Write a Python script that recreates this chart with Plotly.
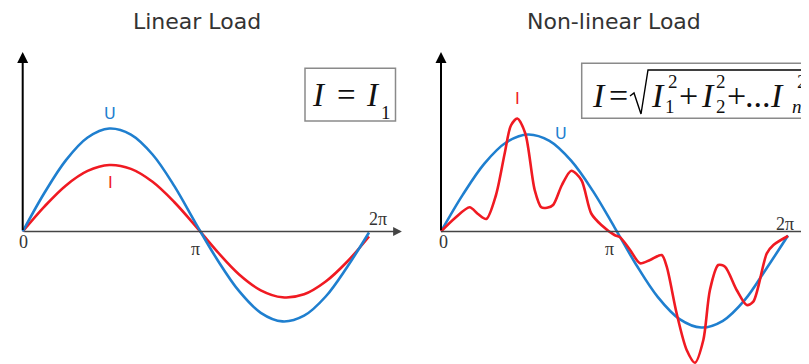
import plotly.graph_objects as go

# page body has an 8px margin: the figure is drawn 8px smaller and all page
# pixel positions are shifted by OFF
OFF = 8
W, H = 809 - OFF, 364 - OFF

# ---------------- data (x in units of pi) ----------------
theta_lin = [0, 0.125, 0.25, 0.375, 0.5, 0.625, 0.75, 0.875, 1.0,
             1.125, 1.25, 1.375, 1.5, 1.625, 1.75, 1.875, 2.0]
u_lin = [0, 0.385, 0.714, 0.94, 1.03, 0.969, 0.77, 0.456, 0.079,
         -0.285, -0.597, -0.813, -0.899, -0.842, -0.65, -0.352, -0.01]
i_lin = [0, 0.249, 0.461, 0.606, 0.665, 0.626, 0.497, 0.295, 0.051,
         -0.204, -0.43, -0.588, -0.658, -0.628, -0.50, -0.30, -0.05]

theta_nl_u = [0, 0.125, 0.25, 0.375, 0.5, 0.625, 0.75, 0.875, 1.0,
              1.125, 1.25, 1.375, 1.5, 1.625, 1.75, 1.875, 2.0]
u_nl = [0, 0.366, 0.679, 0.89, 0.97, 0.906, 0.708, 0.406, 0.042,
        -0.332, -0.656, -0.876, -0.96, -0.893, -0.687, -0.372, -0.04]

theta_nl_i = [0, 0.081, 0.165, 0.213, 0.261, 0.317, 0.367, 0.403, 0.440,
              0.486, 0.540, 0.578, 0.611, 0.646, 0.697, 0.751, 0.809,
              0.866, 0.924, 1.0, 1.032, 1.090, 1.147, 1.205, 1.272, 1.301,
              1.358, 1.416, 1.464, 1.512, 1.550, 1.598, 1.637, 1.704,
              1.762, 1.800, 1.878, 1.916, 2.0]
i_nl = [0, 0.135, 0.242, 0.175, 0.125, 0.365, 0.78, 1.06, 1.13,
        0.98, 0.415, 0.242, 0.238, 0.265, 0.465, 0.608, 0.515,
        0.18, 0.065, -0.035, -0.058, -0.185, -0.318, -0.285, -0.235, -0.352,
        -0.818, -1.185, -1.312, -1.085, -0.585, -0.335, -0.352, -0.585,
        -0.735, -0.702, -0.218, -0.135, -0.045]

tick_vals = [0, 1, 2]
tick_labels = ["0", "π", "2π"]
titles = ["Linear Load", "Non-linear Load"]

# ---------------- styles ----------------
BLUE = "#1f7fcf"
RED = "#f01a22"
TXT = "#333333"
LW = 2.6


def px(x):
    return (x - OFF) / W


def py(y):
    return 1 - (y - OFF) / H


fig = go.Figure()

fig.add_trace(go.Scatter(x=theta_lin, y=i_lin, mode="lines", xaxis="x", yaxis="y",
                         line=dict(color=RED, width=LW, shape="spline", smoothing=1.0)))
fig.add_trace(go.Scatter(x=theta_lin, y=u_lin, mode="lines", xaxis="x", yaxis="y",
                         line=dict(color=BLUE, width=LW, shape="spline", smoothing=1.0)))
fig.add_trace(go.Scatter(x=theta_nl_u, y=u_nl, mode="lines", xaxis="x2", yaxis="y2",
                         line=dict(color=BLUE, width=LW, shape="spline", smoothing=1.0)))
fig.add_trace(go.Scatter(x=theta_nl_i, y=i_nl, mode="lines", xaxis="x2", yaxis="y2",
                         line=dict(color=RED, width=LW, shape="spline", smoothing=0.8)))

yr = [-1.325, 2.235]
fig.update_layout(
    width=W, height=H, margin=dict(l=0, r=0, t=0, b=0),
    paper_bgcolor="white", plot_bgcolor="white", showlegend=False,
    xaxis=dict(domain=[0, 0.5], range=[-0.0849, 2.2281], visible=False, fixedrange=True),
    yaxis=dict(domain=[0, 1], range=yr, visible=False, fixedrange=True),
    xaxis2=dict(domain=[0.5, 1], range=[-0.1873, 2.1210], visible=False, fixedrange=True),
    yaxis2=dict(domain=[0, 1], range=yr, visible=False, anchor="x2", fixedrange=True),
)

shapes = []
ann = []

# axes
for xr, yref in (("x", "y"), ("x2", "y2")):
    ann.append(dict(x=0, y=1.795, ax=0, ay=0, xref=xr, yref=yref, axref=xr, ayref=yref,
                    showarrow=True, arrowhead=2, arrowsize=1.1, arrowwidth=2,
                    arrowcolor="black", text="", standoff=0))
ann.append(dict(x=2.19, y=0, ax=0, ay=0, xref="x", yref="y", axref="x", ayref="y",
                showarrow=True, arrowhead=2, arrowsize=1.1, arrowwidth=1.6,
                arrowcolor="#444444", text="", standoff=0))
shapes.append(dict(type="line", xref="x2", yref="y2", x0=0, y0=0, x1=2.3, y1=0,
                   line=dict(color="#444444", width=1.6)))

# tick labels
shifts = {
    "x": [(1, -10), (0, -17), (9, 13)],
    "x2": [(2, -10), (-5, -17), (-3, 8)],
}
for xr, yref in (("x", "y"), ("x2", "y2")):
    for v, lab, (dx, dy) in zip(tick_vals, tick_labels, shifts[xr]):
        ann.append(dict(x=v, y=0, xref=xr, yref=yref, text=lab, showarrow=False,
                        xshift=dx, yshift=dy,
                        font=dict(family="Liberation Serif", size=18, color=TXT)))

# titles
for t, xc in zip(titles, (197, 614)):
    ann.append(dict(x=px(xc), y=py(22), xref="paper", yref="paper", text=t,
                    showarrow=False, xanchor="center", yanchor="middle",
                    font=dict(family="DejaVu Sans", size=22, color=TXT)))

# curve labels
for t, xc, yc, c in (("U", 110, 114, BLUE), ("I", 110, 182, RED),
                     ("I", 517, 98, RED), ("U", 561, 133, BLUE)):
    ann.append(dict(x=px(xc), y=py(yc), xref="paper", yref="paper", text=t,
                    showarrow=False, xanchor="center", yanchor="middle",
                    font=dict(family="DejaVu Sans", size=16, color=c)))

# formula boxes
shapes.append(dict(type="rect", xref="paper", yref="paper", x0=px(305), x1=px(395.5),
                   y0=py(121), y1=py(68.3), line=dict(color="#8a8a8a", width=1.5)))
shapes.append(dict(type="rect", xref="paper", yref="paper", x0=px(581.7), x1=px(815),
                   y0=py(118.3), y1=py(63.3), line=dict(color="#8a8a8a", width=1.5)))

# radical sign
path = "M {} {} L {} {} L {} {} L {} {} L {} {}".format(
    px(630), py(96), px(634), py(93), px(641), py(114), px(648), py(70), px(815), py(70))
shapes.append(dict(type="path", xref="paper", yref="paper", path=path,
                   line=dict(color="black", width=1.4)))

SERIF = "Liberation Serif"
glyphs = [
    ("<i>I</i>", 319, 95, 33), ("=", 346.5, 95, 33), ("<i>I</i>", 373, 95, 33), ("1", 386, 112, 19),
    ("<i>I</i>", 599, 95, 34), ("=", 618, 95, 34),
    ("<i>I</i>", 657.5, 95, 34), ("2", 672.5, 81, 19), ("1", 670, 107, 19),
    ("+", 688.5, 95, 34),
    ("<i>I</i>", 707.5, 95, 34), ("2", 721, 81, 19), ("2", 721, 107, 19),
    ("+", 736.5, 95, 34),
    ("...", 758, 95, 34),
    ("<i>I</i>", 776.5, 95, 34), ("2", 802, 81, 19), ("<i>n</i>", 797, 107, 19),
]
for t, xc, yc, s in glyphs:
    ann.append(dict(x=px(xc), y=py(yc), xref="paper", yref="paper", text=t,
                    showarrow=False, xanchor="center", yanchor="middle",
                    font=dict(family=SERIF, size=s, color="#111111")))

fig.update_layout(shapes=shapes, annotations=ann)
fig.write_html("out.html")
